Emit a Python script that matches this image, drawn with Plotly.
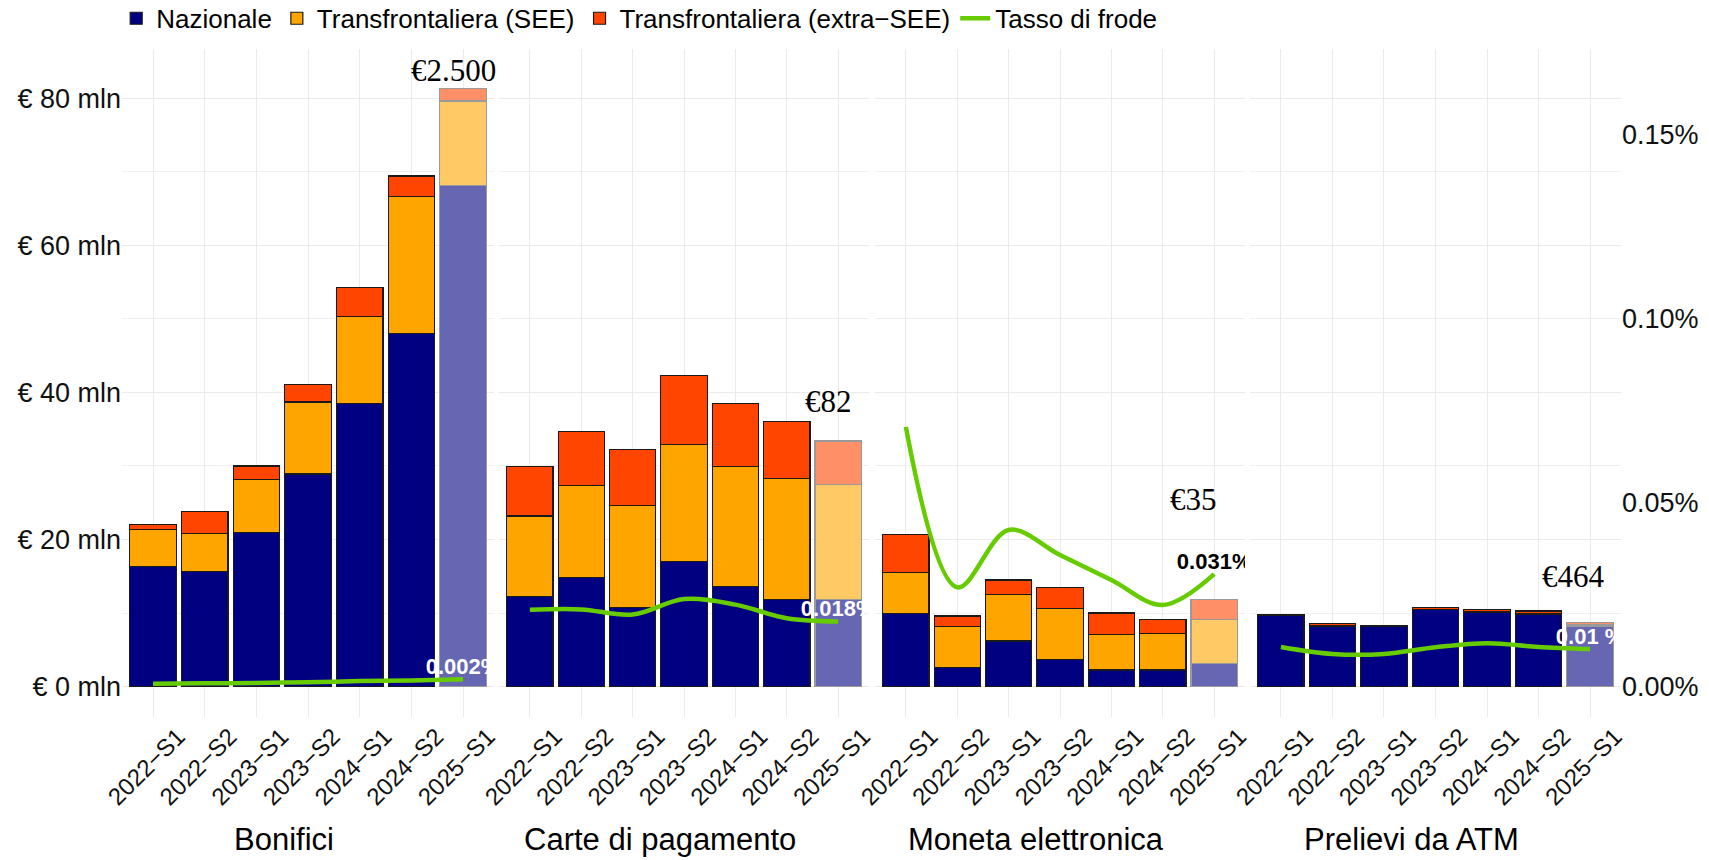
import plotly.graph_objects as go

# ---------------- data ----------------
periods = ["2022\u2212S1", "2022\u2212S2", "2023\u2212S1", "2023\u2212S2",
           "2024\u2212S1", "2024\u2212S2", "2025\u2212S1"]
panels = ["Bonifici", "Carte di pagamento", "Moneta elettronica", "Prelievi da ATM"]
series_names = ["Nazionale", "Transfrontaliera (SEE)", "Transfrontaliera (extra\u2212SEE)"]

# fraud amounts, million euro (stack segments)
nazionale_bonifici = [16.3, 15.6, 20.9, 28.9, 38.5, 48.0, 68.1]
see_bonifici = [5.05, 5.2, 7.3, 9.8, 11.8, 18.6, 11.5]
extra_bonifici = [0.65, 3.0, 1.8, 2.4, 3.9, 2.8, 1.7]

nazionale_carte = [12.2, 14.8, 10.8, 17.0, 13.6, 11.8, 11.8]
see_carte = [11.0, 12.5, 13.8, 15.9, 16.3, 16.5, 15.7]
extra_carte = [6.7, 7.4, 7.6, 9.4, 8.6, 7.7, 5.9]

nazionale_moneta = [9.95, 2.6, 6.2, 3.7, 2.25, 2.25, 3.2]
see_moneta = [5.55, 5.55, 6.3, 6.9, 4.82, 4.95, 5.9]
extra_moneta = [5.2, 1.45, 2.0, 2.9, 2.93, 1.95, 2.7]

nazionale_atm = [9.64, 8.24, 8.2, 10.45, 10.1, 9.86, 8.24]
see_atm = [0.05, 0.05, 0.03, 0.05, 0.05, 0.1, 0.26]
extra_atm = [0.17, 0.26, 0.1, 0.27, 0.35, 0.31, 0.2]

# fraud rate (%)
tasso_bonifici = [0.0008, 0.0009, 0.0010, 0.0012, 0.0015, 0.0017, 0.0020]
tasso_carte = [0.0209, 0.0210, 0.0196, 0.0238, 0.0223, 0.0186, 0.0177]
tasso_moneta = [0.0706, 0.0270, 0.0426, 0.0358, 0.0290, 0.0222, 0.0306]
tasso_atm = [0.0108, 0.0089, 0.0089, 0.0107, 0.0118, 0.0108, 0.0102]

rate_labels = ["0.002%", "0.018%", "0.031%", "0.01 %"]
amount_labels = ["\u20ac2.500", "\u20ac82", "\u20ac35", "\u20ac464"]

y_tickvals = [0, 20, 40, 60, 80]
y_ticktext = ["\u20ac 0 mln", "\u20ac 20 mln", "\u20ac 40 mln", "\u20ac 60 mln", "\u20ac 80 mln"]
y2_tickvals = [0, 0.05, 0.10, 0.15]
y2_ticktext = ["0.00%", "0.05%", "0.10%", "0.15%"]

# ---------------- assembly ----------------
stack = [
    [nazionale_bonifici, see_bonifici, extra_bonifici],
    [nazionale_carte, see_carte, extra_carte],
    [nazionale_moneta, see_moneta, extra_moneta],
    [nazionale_atm, see_atm, extra_atm],
]
rates = [tasso_bonifici, tasso_carte, tasso_moneta, tasso_atm]

colors = ["#000080", "#FFA500", "#FF4500"]
colors_light = ["#6666B3", "#FFC966", "#FF8F66"]
rate_label_colors = ["white", "white", "black", "white"]
GREEN = "#66CC00"
SANS = "Liberation Sans, Arial, sans-serif"
SERIF = "Liberation Serif, Times New Roman, serif"

xaxes = ["x", "x2", "x3", "x4"]
domains = [[0.0714, 0.2891], [0.2920, 0.5085], [0.5120, 0.7285], [0.7314, 0.9485]]

fig = go.Figure()
n = len(periods)
for i, p in enumerate(panels):
    xa = xaxes[i]
    for s in range(3):
        fig.add_trace(go.Bar(
            x=periods, y=stack[i][s], name=series_names[s],
            legendgroup=series_names[s], showlegend=(i == 0),
            marker=dict(color=[colors[s]] * (n - 1) + [colors_light[s]],
                        line=dict(color=["#1a1a1a"] * (n - 1) + ["#9a9a9a"], width=1.2)),
            width=0.9, xaxis=xa, yaxis="y",
        ))
    fig.add_trace(go.Scatter(
        x=periods, y=rates[i], mode="lines", name="Tasso di frode",
        legendgroup="tasso", showlegend=(i == 0),
        line=dict(color=GREEN, width=4.5, shape="spline", smoothing=1.0),
        xaxis=xa, yaxis="y2",
    ))
    fig.add_trace(go.Scatter(
        x=[periods[-1]], y=[rates[i][-1]], mode="text", text=[rate_labels[i]],
        textposition="top center", showlegend=False, cliponaxis=True,
        textfont=dict(family=SANS, size=22, color=rate_label_colors[i], weight="bold"),
        xaxis=xa, yaxis="y2", hoverinfo="skip",
    ))

layout = dict(
    width=1709, height=860,
    paper_bgcolor="white", plot_bgcolor="white",
    margin=dict(l=0, r=0, t=0, b=0, autoexpand=False),
    barmode="stack", bargap=0.1,
    font=dict(family=SANS, color="black"),
    legend=dict(orientation="h", x=0.068, y=1.006, xanchor="left", yanchor="top",
                font=dict(family=SANS, size=26, color="black"), traceorder="normal",
                bgcolor="rgba(0,0,0,0)", itemwidth=30, tracegroupgap=0),
    showlegend=True,
)
for i, xa in enumerate(xaxes):
    key = "xaxis" if i == 0 else f"xaxis{i + 1}"
    layout[key] = dict(
        domain=domains[i], anchor="y", type="category", range=[-0.6, 6.6],
        tickangle=-45, tickfont=dict(family=SANS, size=24, color="#111111"),
        ticklabelshift=25, ticklabelstandoff=0,
        showgrid=True, gridcolor="#EBEBEB", gridwidth=1.3, showline=False,
        ticks="", zeroline=False, categoryorder="array", categoryarray=periods,
        automargin=False,
    )
layout["yaxis"] = dict(
    domain=[0.1665, 0.9433], anchor="x", range=[-4.1, 86.7],
    tickvals=y_tickvals, ticktext=y_ticktext,
    tickfont=dict(family=SANS, size=27, color="#111111"),
    showgrid=True, gridcolor="#EBEBEB", gridwidth=1.3, zeroline=False,
    minor=dict(tickvals=[10, 30, 50, 70], showgrid=True, gridcolor="#F0F0F0", gridwidth=1),
    automargin=False,
)
layout["yaxis2"] = dict(
    overlaying="y", anchor="x4", side="right", range=[-4.1 / 500, 86.7 / 500],
    tickvals=y2_tickvals, ticktext=y2_ticktext,
    tickfont=dict(family=SANS, size=27, color="#111111"),
    showgrid=False, zeroline=False, automargin=False,
)
fig.update_layout(**layout)

# facet strip labels (below axis)
for i, p in enumerate(panels):
    ref = "x domain" if i == 0 else f"x{i + 1} domain"
    fig.add_annotation(x=0.5, xref=ref, xshift=-24, y=0.0233, yref="paper",
                       text=p, showarrow=False, yanchor="middle",
                       font=dict(family=SANS, size=31, color="black"))

# amount annotations (serif)
amount_y = [83.7, 38.8, 25.5, 15.0]
amount_shift = [-10, -10, -21, -17]
for i in range(4):
    fig.add_annotation(x=periods[-1], xref=xaxes[i], y=amount_y[i], yref="y",
                       xshift=amount_shift[i], text=amount_labels[i], showarrow=False,
                       yanchor="middle", font=dict(family=SERIF, size=31, color="black"))

fig.write_html("out.html", config={"displayModeBar": False},
               post_script="document.body.style.margin='0';document.body.style.padding='0';")
